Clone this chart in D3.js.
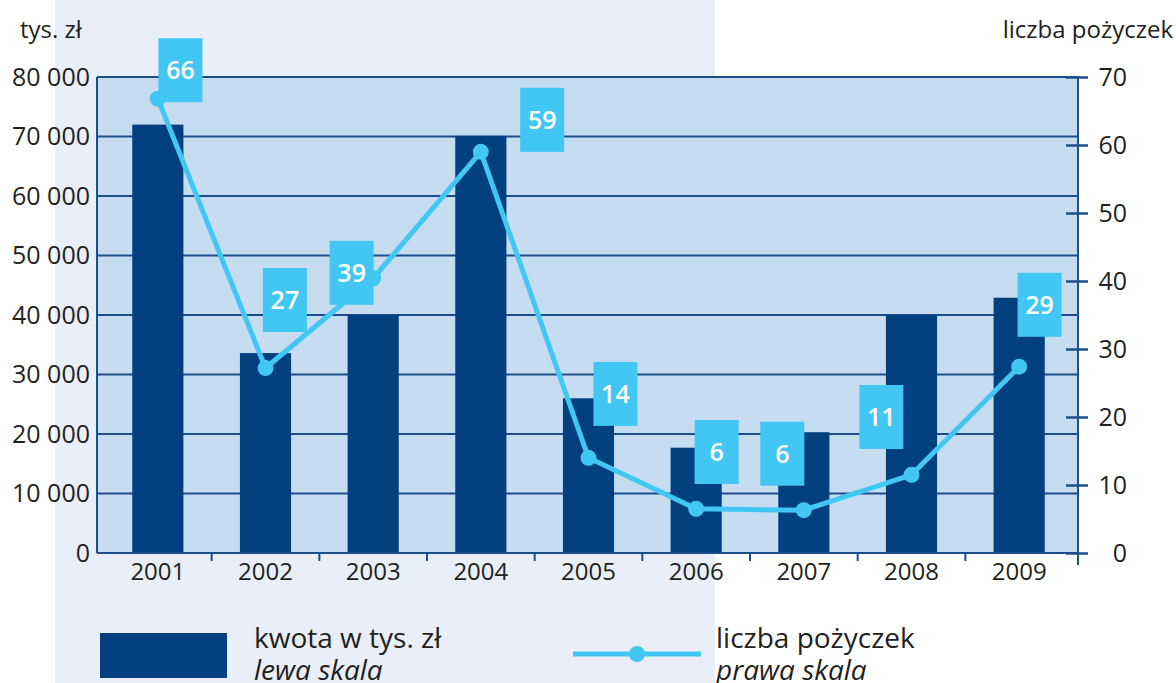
<!DOCTYPE html>
<html><head><meta charset="utf-8">
<script src="https://cdn.jsdelivr.net/npm/d3@7"></script>
<style>
html,body{margin:0;padding:0;background:#fff;}
svg{display:block;font-family:"Open Sans",sans-serif;}
</style>
</head><body>
<svg id="c" width="1176" height="683"></svg>
<script>
// ---- data ----
const years = ["2001","2002","2003","2004","2005","2006","2007","2008","2009"];
const amounts = [72000, 33600, 40000, 70100, 26000, 17700, 20300, 40000, 42900]; // tys. zł (left scale)
const loanCounts = [66.8, 27.2, 40.4, 59, 14, 6.5, 6.3, 11.5, 27.4];             // plotted points (right scale)
const loanLabels = ["66", "27", "39", "59", "14", "6", "6", "11", "29"];          // printed values
const amountTicks = [0, 10000, 20000, 30000, 40000, 50000, 60000, 70000, 80000];
const countTicks = [0, 10, 20, 30, 40, 50, 60, 70];
// label box placement: shift in band steps from the category centre, level in right-scale units
const labelShift = [0.21, 0.18, -0.20, 0.57, 0.25, 0.19, -0.20, -0.28, 0.19];
const labelLevel = [71.0, 37.2, 41.2, 63.7, 23.4, 14.85, 14.6, 20.0, 36.5];

// ---- layout / style ----
const W = 1176, H = 683;
const plot = {left: 97, right: 1078, top: 77, bottom: 553};
const C = {
  bar: "#02407f", line: "#42c7f4", plotBg: "#c6ddf1", pageBg: "#e9eef8",
  grid: "#1d4e8c", text: "#231f20"
};

const svg = d3.select("#c");
const fmt = d3.formatLocale({decimal: ",", thousands: "\u00a0", grouping: [3], currency: ["", ""]}).format(",d");

const x = d3.scaleBand().domain(years).range([104, 1073]).padding(0);
const yL = d3.scaleLinear().domain([0, 80000]).range([plot.bottom, plot.top]);
const yR = d3.scaleLinear().domain([0, 70]).range([plot.bottom, plot.top]);
const cx = d => x(d) + x.bandwidth() / 2;
const barW = x.bandwidth() * 0.475;

// backgrounds
svg.append("rect").attr("x", 55).attr("y", 0).attr("width", 660).attr("height", H).attr("fill", C.pageBg);
svg.append("rect").attr("x", plot.left).attr("y", plot.top)
  .attr("width", plot.right - plot.left).attr("height", plot.bottom - plot.top).attr("fill", C.plotBg);

// gridlines
svg.append("g").selectAll("line").data(amountTicks.filter(d => d > 0)).join("line")
  .attr("x1", plot.left).attr("x2", plot.right)
  .attr("y1", d => yL(d)).attr("y2", d => yL(d))
  .attr("stroke", C.grid).attr("stroke-width", 2);

// bars
svg.append("g").selectAll("rect").data(years).join("rect")
  .attr("x", (d) => cx(d) - barW / 2)
  .attr("width", barW)
  .attr("y", (d, i) => yL(amounts[i]))
  .attr("height", (d, i) => plot.bottom - yL(amounts[i]))
  .attr("fill", C.bar);

// axis frame lines
svg.append("line").attr("x1", plot.left).attr("x2", plot.left).attr("y1", plot.top).attr("y2", plot.bottom)
  .attr("stroke", C.grid).attr("stroke-width", 2);
svg.append("line").attr("x1", plot.left).attr("x2", plot.right).attr("y1", plot.bottom).attr("y2", plot.bottom)
  .attr("stroke", C.grid).attr("stroke-width", 2);
svg.append("line").attr("x1", plot.right).attr("x2", plot.right).attr("y1", plot.top - 1).attr("y2", plot.bottom + 12)
  .attr("stroke", C.grid).attr("stroke-width", 2);

// bottom category separators
svg.append("g").selectAll("line").data(years.slice(1)).join("line")
  .attr("x1", d => x(d)).attr("x2", d => x(d))
  .attr("y1", plot.bottom).attr("y2", plot.bottom + 8)
  .attr("stroke", C.grid).attr("stroke-width", 2);

// left axis
const gL = svg.append("g").attr("transform", `translate(${plot.left},0)`)
  .call(d3.axisLeft(yL).tickValues(amountTicks).tickSize(0).tickPadding(7).tickFormat(fmt));
gL.select(".domain").remove();
gL.selectAll("text").attr("font-size", 25).attr("fill", C.text).attr("font-family", "Open Sans").attr("dy", "0.33em");

// right axis
const gR = svg.append("g").attr("transform", `translate(${plot.right},0)`)
  .call(d3.axisRight(yR).tickValues(countTicks).tickSize(10).tickFormat(d3.format("d")));
gR.select(".domain").remove();
gR.selectAll(".tick line").attr("x1", -12).attr("x2", 10).attr("stroke", C.grid).attr("stroke-width", 2.5);
gR.selectAll("text").attr("font-size", 25).attr("fill", C.text).attr("font-family", "Open Sans")
  .attr("text-anchor", "end").attr("x", 49).attr("dy", "0.33em");

// bottom axis labels
const gB = svg.append("g").attr("transform", `translate(0,${plot.bottom})`)
  .call(d3.axisBottom(x).tickSize(0));
gB.select(".domain").remove();
gB.selectAll("text").attr("font-size", 24).attr("fill", C.text).attr("font-family", "Open Sans")
  .attr("y", 27).attr("dy", 0);

// line series
const line = d3.line().x((d, i) => cx(years[i])).y(d => yR(d));
svg.append("path").datum(loanCounts).attr("d", line)
  .attr("fill", "none").attr("stroke", C.line).attr("stroke-width", 5).attr("stroke-linejoin", "round");
svg.append("g").selectAll("circle").data(loanCounts).join("circle")
  .attr("cx", (d, i) => cx(years[i])).attr("cy", d => yR(d)).attr("r", 8).attr("fill", C.line);

// value boxes
const boxW = 44, boxH = 64;
const lab = svg.append("g").selectAll("g").data(loanLabels).join("g")
  .attr("transform", (d, i) => `translate(${cx(years[i]) + labelShift[i] * x.step()},${yR(labelLevel[i])})`);
lab.append("rect").attr("x", -boxW / 2).attr("y", -boxH / 2).attr("width", boxW).attr("height", boxH).attr("fill", C.line);
lab.append("text").text(d => d).attr("text-anchor", "middle").attr("dy", "0.36em")
  .attr("font-size", 25).attr("font-weight", 600).attr("fill", "#fff");

// axis titles
svg.append("text").text("tys. zł").attr("x", 20).attr("y", 38).attr("font-size", 24).attr("fill", C.text);
svg.append("text").text("liczba pożyczek").attr("x", 1173).attr("y", 38).attr("text-anchor", "end")
  .attr("font-size", 24).attr("fill", C.text);

// legend
svg.append("rect").attr("x", 100).attr("y", 633).attr("width", 127).attr("height", 45).attr("fill", C.bar);
svg.append("text").text("kwota w tys. zł").attr("x", 254).attr("y", 648).attr("font-size", 28).attr("fill", C.text);
svg.append("text").text("lewa skala").attr("x", 254).attr("y", 680).attr("font-size", 28)
  .attr("font-style", "italic").attr("fill", C.text);
svg.append("line").attr("x1", 573).attr("x2", 701).attr("y1", 654).attr("y2", 654)
  .attr("stroke", C.line).attr("stroke-width", 5);
svg.append("circle").attr("cx", 637).attr("cy", 654).attr("r", 8).attr("fill", C.line);
svg.append("text").text("liczba pożyczek").attr("x", 716).attr("y", 648).attr("font-size", 28).attr("fill", C.text);
svg.append("text").text("prawa skala").attr("x", 716).attr("y", 680).attr("font-size", 28)
  .attr("font-style", "italic").attr("fill", C.text);
</script>
</body></html>
